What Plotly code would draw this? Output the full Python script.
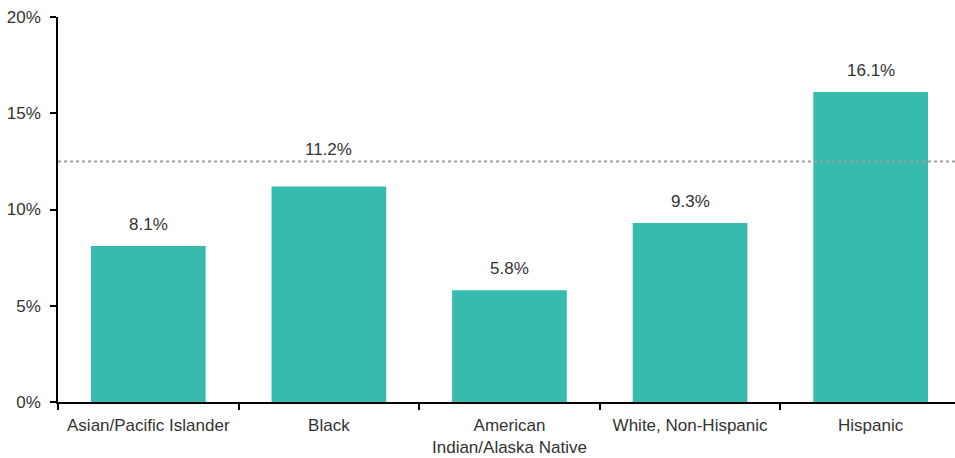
import plotly.graph_objects as go

categories = ["Asian/Pacific Islander", "Black", "American<br>Indian/Alaska Native",
              "White, Non-Hispanic", "Hispanic"]
values = [8.1, 11.2, 5.8, 9.3, 16.1]
labels = ["8.1%", "11.2%", "5.8%", "9.3%", "16.1%"]
reference_value = 12.5
y_ticks = [0, 5, 10, 15, 20]
y_tick_labels = ["0%", "5%", "10%", "15%", "20%"]

label_shift = [10, 25, 10, 10, 10]
FONT = "Liberation Sans, Arial"

fig = go.Figure()
fig.add_trace(go.Bar(x=categories, y=values, marker=dict(color="#36BBAE", line=dict(width=0)),
                     hoverinfo="skip"))

for c, v, t, s in zip(categories, values, labels, label_shift):
    fig.add_annotation(x=c, y=v, text=t, showarrow=False, yanchor="bottom", yshift=s,
                       font=dict(family=FONT, size=17, color="#333333"))

fig.add_shape(type="line", xref="paper", x0=0, x1=1, yref="y", y0=reference_value, y1=reference_value,
              line=dict(color="#A0A0A0", width=2, dash="dot"), layer="above")

fig.update_layout(
    width=955, height=458,
    margin=dict(l=58, r=0, t=17, b=56),
    paper_bgcolor="white", plot_bgcolor="white",
    bargap=0.365,
    showlegend=False,
    font=dict(family=FONT, size=17, color="#333333"),
    xaxis=dict(range=[-0.5, 4.467], showline=True, linecolor="black", linewidth=1.5, ticks="outside",
               tickson="boundaries", ticklen=6, tickcolor="black", tickwidth=1.5,
               showgrid=False, ticklabelstandoff=7, tickfont=dict(size=17, color="#333333")),
    yaxis=dict(range=[0, 20], tickvals=y_ticks, ticktext=y_tick_labels, showline=True,
               linecolor="black", linewidth=1.5, ticks="outside", ticklen=6, tickcolor="black",
               tickwidth=1.5, showgrid=False, zeroline=False, ticklabelstandoff=6,
               tickfont=dict(size=17, color="#333333")),
)

fig.write_html("out.html")
